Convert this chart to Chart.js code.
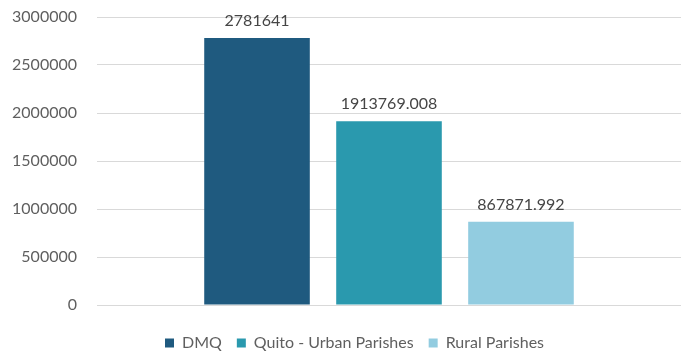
<!DOCTYPE html>
<html>
<head>
<meta charset="utf-8">
<script src="https://cdn.jsdelivr.net/npm/chart.js@4.4.1/dist/chart.umd.min.js"></script>
<style>
  html, body { margin: 0; padding: 0; background: #ffffff; }
  #wrap { width: 681px; height: 351px; }
</style>
</head>
<body>
<div id="wrap"><canvas id="c" width="681" height="351"></canvas></div>
<script>
// Population by area
const seriesNames = ['DMQ', 'Quito - Urban Parishes', 'Rural Parishes'];
const seriesValues = [2781641, 1913769.008, 867871.992];
const seriesColors = ['#1f5a7f', '#2a99ae', '#92cce0'];
const yTicks = [0, 500000, 1000000, 1500000, 2000000, 2500000, 3000000];

const FONT = 'Lato, "Open Sans", sans-serif';
const TEXT = '#5f5f5f';
const LEGEND_HEIGHT = 31;
const LEGEND_SHIFT = 14;

// Value labels drawn above each bar
const valueLabels = {
  id: 'valueLabels',
  afterDatasetsDraw(chart) {
    const ctx = chart.ctx;
    ctx.save();
    ctx.font = '16px ' + FONT;
    ctx.fillStyle = '#454545';
    ctx.textAlign = 'center';
    ctx.textBaseline = 'middle';
    chart.data.datasets.forEach((ds, i) => {
      const meta = chart.getDatasetMeta(i);
      meta.data.forEach((bar, j) => {
        ctx.fillText(String(ds.data[j]), bar.x, bar.y - 17);
      });
    });
    ctx.restore();
  }
};

// Keep the legend strip compact at the bottom edge, centred a little right
const compactLegend = {
  id: 'compactLegend',
  beforeLayout(chart) {
    const legend = chart.legend;
    if (legend && !legend._compact) {
      const fit = legend.fit;
      legend.fit = function () {
        fit.call(this);
        this.height = LEGEND_HEIGHT;
      };
      const draw = legend.draw;
      legend.draw = function () {
        this.left += LEGEND_SHIFT;
        this.right += LEGEND_SHIFT;
        draw.call(this);
        this.left -= LEGEND_SHIFT;
        this.right -= LEGEND_SHIFT;
      };
      legend._compact = true;
    }
  }
};

new Chart(document.getElementById('c'), {
  type: 'bar',
  data: {
    labels: [''],
    datasets: seriesNames.map((name, i) => ({
      label: name,
      data: [seriesValues[i]],
      backgroundColor: seriesColors[i],
      borderWidth: 0,
      categoryPercentage: 0.678,
      barPercentage: 0.8
    }))
  },
  options: {
    responsive: false,
    animation: false,
    layout: { padding: { top: 17, right: 0, bottom: 0, left: 0 } },
    plugins: {
      legend: {
        position: 'bottom',
        labels: {
          boxWidth: 9,
          boxHeight: 9,
          padding: 15,
          color: TEXT,
          font: { family: FONT, size: 16 }
        }
      },
      tooltip: { enabled: false }
    },
    scales: {
      x: {
        display: true,
        afterFit(scale) { scale.height = 15; },
        grid: { display: false },
        border: { display: false },
        ticks: { display: false }
      },
      y: {
        min: 0,
        max: 3000000,
        afterFit(scale) {
          scale.width = 97;
          scale.paddingTop = 0;
          scale.paddingBottom = 0;
        },
        afterBuildTicks(scale) { scale.ticks = yTicks.map(v => ({ value: v })); },
        border: { display: false },
        grid: { color: '#d9d9d9', drawTicks: false, lineWidth: 1 },
        ticks: {
          padding: 20,
          color: TEXT,
          font: { family: FONT, size: 16 },
          callback: v => String(v)
        }
      }
    }
  },
  plugins: [valueLabels, compactLegend]
});
</script>
</body>
</html>
